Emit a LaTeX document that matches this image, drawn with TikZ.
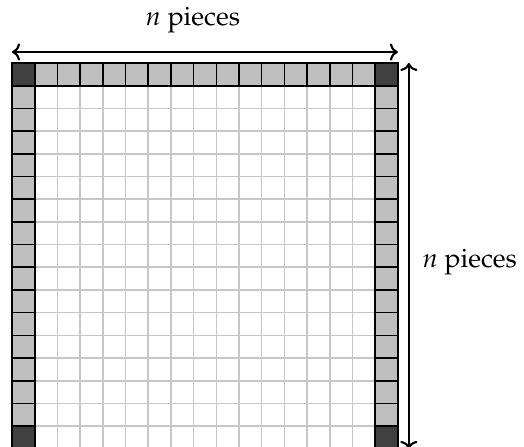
\documentclass[tikz,border=0pt]{standalone}
\usepackage[T1]{fontenc}
\usepackage{mathpazo}
\usetikzlibrary{arrows.meta}

\begin{document}
\begin{tikzpicture}[>={To[length=3pt,width=6.5pt]},font=\normalsize]
\tikzstyle{side}=[draw=black,fill=black!25,line width=0.6pt]
\tikzstyle{corner}=[draw=black,fill=black!75,line width=0.6pt]
\tikzstyle{span}=[<->,line width=0.8pt]
\useasboundingbox (-0.159,0.833) rectangle (6.767,-5.075);
% inner squares
\draw[black!22,line width=0.6pt,step=0.3] (0,0) grid (5.1,-5.1);
% pieces along the sides
\foreach \i in {1,...,15} {
  \pgfmathsetmacro\xx{\i*0.3}
  \draw[side] (\xx,0) rectangle ++(0.3,-0.3);
  \draw[side] (0,-\xx) rectangle ++(0.3,-0.3);
  \draw[side] (4.8,-\xx) rectangle ++(0.3,-0.3);
}
\foreach \x/\y in {0/0, 4.8/0, 0/-4.8, 4.8/-4.8}
  \draw[corner] (\x,\y) rectangle ++(0.3,-0.3);
% size arrows
\coordinate (topl) at (0,0.145);
\coordinate (topr) at (5.1,0.145);
\coordinate (rtop) at (5.245,0);
\coordinate (rbot) at (5.245,-5.1);
\draw[span] (topl) -- (topr);
\draw[span] (rtop) -- (rbot);
\node[anchor=base,inner sep=0pt] (wlabel) at (2.39,0.502) {$n$ pieces};
\node[anchor=base west,inner sep=0pt] (hlabel) at (5.42,-2.70) {$n$ pieces};
\end{tikzpicture}
\end{document}
